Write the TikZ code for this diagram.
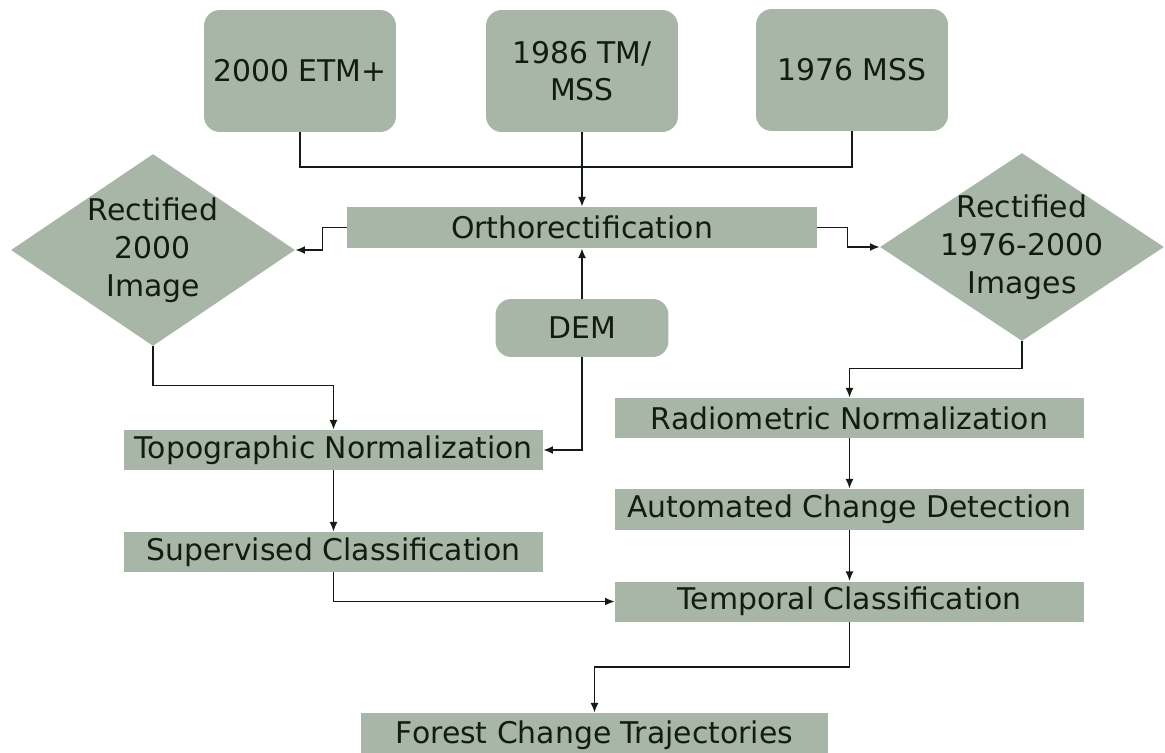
\documentclass[tikz,border=0pt]{standalone}
\usepackage{fontspec}
\setmainfont{DejaVu Sans}
\usepackage{tikz}
\usetikzlibrary{shapes.geometric,arrows.meta}
\definecolor{boxgreen}{rgb}{0.660,0.715,0.660}
\definecolor{mydark}{rgb}{0.070,0.110,0.070}
\tikzstyle{none}=[inner sep=0pt]
\tikzstyle{srcbox}=[rectangle,rounded corners=9pt,fill=boxgreen,inner sep=0pt,minimum width=3.84cm,minimum height=2.44cm,align=center,text=mydark,font=\fontsize{17pt}{21pt}\selectfont]
\tikzstyle{procbox}=[rectangle,fill=boxgreen,inner sep=0pt,minimum height=0.8cm,align=center,text=mydark,font=\fontsize{17pt}{21pt}\selectfont]
\tikzstyle{decision}=[diamond,fill=boxgreen,inner sep=0pt,minimum width=5.68cm,minimum height=3.84cm]
\tikzstyle{flow}=[draw=mydark,line width=0.9pt,>={Latex[length=5.5pt,width=4.5pt]}]

\begin{document}
\begin{tikzpicture}[x=0.02cm,y=-0.02cm]
	\useasboundingbox (0,0) rectangle (1165,753);
	% boxes
		\node [style=srcbox] (0) at (300,71) {2000 ETM+};
		\node [style=srcbox] (1) at (582,71) {1986 TM/\\MSS};
		\node [style=srcbox] (2) at (852,70) {1976 MSS};
		\node [style=procbox,minimum width=9.4cm,minimum height=0.82cm] (3) at (582,227.5) {Orthorectification};
		\node [style=decision] (4) at (153,250) {};
		\node [style=none,align=center,text=mydark,font=\fontsize{17pt}{21.5pt}\selectfont] (4t) at (4) {Rectified\\2000\\Image};
		\node [style=decision,minimum height=3.76cm] (5) at (1022,247) {};
		\node [style=none,align=center,text=mydark,font=\fontsize{17pt}{21.5pt}\selectfont] (5t) at (5) {Rectified\\1976-2000\\Images};
		\node [style=srcbox,minimum width=3.46cm,minimum height=1.16cm] (6) at (582,328) {DEM};
		\node [style=procbox,minimum width=8.38cm] (7) at (333.5,450) {Topographic Normalization};
		\node [style=procbox,minimum width=8.38cm] (8) at (333.5,552) {Supervised Classification};
		\node [style=procbox,minimum width=9.38cm] (9) at (849.5,418) {Radiometric Normalization};
		\node [style=procbox,minimum width=9.38cm,minimum height=0.82cm] (10) at (849.5,509.5) {Automated Change Detection};
		\node [style=procbox,minimum width=9.38cm] (11) at (849.5,601.5) {Temporal Classification};
		\node [style=procbox,minimum width=9.34cm,minimum height=0.88cm] (12) at (594.5,735) {Forest Change Trajectories};
	% links
		\coordinate (j) at (582,167);
		\draw [flow] (0.south) |- (j) -| (2.south);
		\draw [flow,->] (1.south) -- (3.north);
		\draw [flow,->] (3.west) -- ++(-24,0) |- (4.east);
		\draw [flow,->] (3.east) -- ++(30,0) |- (5.west);
		\draw [flow,->] (6.north) -- (3.south);
		\draw [flow,->] (6.south) |- (7.east);
		\draw [flow,->] (4.south) -- ++(0,39) -| (7.north);
		\draw [flow,->] (7.south) -- (8.north);
		\draw [flow,->] (5.south) -- ++(0,27) -| (9.north);
		\draw [flow,->] (9.south) -- (10.north);
		\draw [flow,->] (10.south) -- (11.north);
		\draw [flow,->] (8.south) |- (11.west);
		\draw [flow,->] (11.south) -- ++(0,45) -| (12.north);
\end{tikzpicture}
\end{document}
